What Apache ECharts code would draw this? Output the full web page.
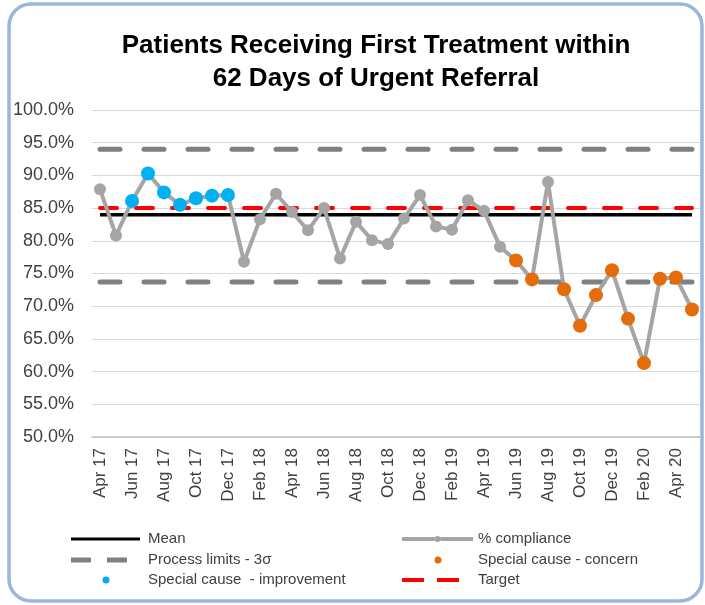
<!DOCTYPE html>
<html>
<head>
<meta charset="utf-8">
<script src="https://cdn.jsdelivr.net/npm/echarts@6/dist/echarts.min.js"></script>
<style>
  html, body { margin: 0; padding: 0; background: #fff; }
  #chart { width: 705px; height: 605px; }
</style>
</head>
<body>
<div id="chart"></div>
<script>
var months = ['Apr 17', 'May 17', 'Jun 17', 'Jul 17', 'Aug 17', 'Sep 17', 'Oct 17', 'Nov 17', 'Dec 17',
    'Jan 18', 'Feb 18', 'Mar 18', 'Apr 18', 'May 18', 'Jun 18', 'Jul 18', 'Aug 18', 'Sep 18', 'Oct 18', 'Nov 18', 'Dec 18',
    'Jan 19', 'Feb 19', 'Mar 19', 'Apr 19', 'May 19', 'Jun 19', 'Jul 19', 'Aug 19', 'Sep 19', 'Oct 19', 'Nov 19', 'Dec 19',
    'Jan 20', 'Feb 20', 'Mar 20', 'Apr 20', 'May 20'];
// % compliance per month
var compliance = [87.9, 80.8, 86.1, 90.3, 87.4, 85.5, 86.5, 86.9, 87.0,
    76.8, 83.3, 87.2, 84.4, 81.6, 85.0, 77.3, 82.9, 80.1, 79.5, 83.4, 87.0,
    82.2, 81.7, 86.2, 84.6, 79.1, 77.0, 74.1, 89.0, 72.6, 67.0, 71.7, 75.5,
    68.1, 61.3, 74.2, 74.4, 69.5];
// months flagged as special cause
var improvementIdx = [2, 3, 4, 5, 6, 7, 8];
var concernIdx = [26, 27, 29, 30, 31, 32, 33, 34, 35, 36, 37];
var meanValue = 84.0;
var upperLimit = 94.0;
var lowerLimit = 73.7;
var targetValue = 85.0;

var font = '"Liberation Sans", Arial, sans-serif';
var textColor = '#404040';

function flat(v) {
    return months.map(function () { return v; });
}
function pick(idx) {
    return compliance.map(function (v, i) { return idx.indexOf(i) >= 0 ? v : '-'; });
}

var chart = echarts.init(document.getElementById('chart'), null, { renderer: 'canvas' });

var legendText = { fontFamily: font, fontSize: 15, color: textColor };
function legendItem(name, left, top, icon, w, h) {
    return {
        left: left, top: top, padding: 0, orient: 'horizontal',
        itemWidth: w, itemHeight: h,
        selectedMode: false,
        textStyle: legendText,
        data: [{ name: name, icon: icon, itemStyle: { borderWidth: 0 } }]
    };
}
// legend icons (the trailing move keeps the icon box full width)
var dotLeft = 'path://M0,0M72,7M31.5,3.5a3.5,3.5 0 1,0 7,0a3.5,3.5 0 1,0 -7,0';
var dotRight = 'path://M0,0M71,7M32.5,3.5a3.5,3.5 0 1,0 7,0a3.5,3.5 0 1,0 -7,0';
var lineDot = 'path://M0,1h32.5v4h-32.5zM38.5,1h32.5v4h-32.5zM32.5,3a3,3 0 1,1 6,0a3,3 0 1,1 -6,0';

var option = {
    animation: false,
    backgroundColor: '#fff',
    title: {
        text: 'Patients Receiving First Treatment within\n62 Days of Urgent Referral',
        left: 376,
        top: 29,
        padding: 0,
        textAlign: 'center',
        textStyle: { fontFamily: font, fontSize: 26, fontWeight: 'bold', color: '#000', lineHeight: 33 }
    },
    graphic: [{
        type: 'rect',
        shape: { x: 9, y: 4, width: 693, height: 597, r: 22 },
        style: { fill: 'none', stroke: '#9ab6da', lineWidth: 3.5 },
        silent: true
    }],
    legend: [
        legendItem('Mean', 71, 531.5, 'path://M0,0h69v3h-69zM72,0', 72, 3),
        legendItem('Process limits - 3σ', 71, 552.5, 'path://M0,0h20v5h-20zM36,0h20v5h-20zM72,0', 72, 5),
        legendItem('Special cause  - improvement', 71, 572.5, dotLeft, 72, 7),
        legendItem('% compliance', 402, 531.5, lineDot, 71, 6),
        legendItem('Special cause - concern', 402, 552.5, dotRight, 71, 7),
        legendItem('Target', 402, 572.5, 'path://M0,0h22v4h-22zM35,0h22v4h-22zM71,0', 71, 4)
    ],
    grid: { left: 92, right: 5, top: 110, bottom: 168 },
    xAxis: {
        type: 'category',
        data: months,
        boundaryGap: true,
        axisLine: { lineStyle: { color: '#bfbfbf', width: 1.5 } },
        axisTick: { show: false },
        axisLabel: {
            interval: 1, rotate: 90, margin: 11,
            fontFamily: font, fontSize: 17, color: textColor
        },
        splitLine: { show: false }
    },
    yAxis: {
        type: 'value',
        min: 50, max: 100, interval: 5,
        axisLine: { show: false },
        axisTick: { show: false },
        axisLabel: {
            margin: 18, fontFamily: font, fontSize: 18, color: textColor,
            formatter: function (v) { return v.toFixed(1) + '%'; }
        },
        splitLine: { lineStyle: { color: '#d9d9d9', width: 1 } }
    },
    series: [{
        name: 'Process limits - 3σ', type: 'line', data: flat(upperLimit), symbol: 'none',
        itemStyle: { color: '#808080' },
        lineStyle: { color: '#808080', width: 5, type: [20, 24], cap: 'round' }
    }, {
        name: 'Process limits - 3σ', type: 'line', data: flat(lowerLimit), symbol: 'none',
        itemStyle: { color: '#808080' },
        lineStyle: { color: '#808080', width: 5, type: [20, 24], cap: 'round' }
    }, {
        name: 'Mean', type: 'line', data: flat(meanValue), symbol: 'none',
        itemStyle: { color: '#000' },
        lineStyle: { color: '#000', width: 3.5 }
    }, {
        name: 'Target', type: 'line', data: flat(targetValue), symbol: 'none',
        itemStyle: { color: '#ff0000' },
        lineStyle: { color: '#ff0000', width: 4, type: [17, 19], cap: 'round' }
    }, {
        name: '% compliance', type: 'line', data: compliance,
        symbol: 'circle', symbolSize: 12, showAllSymbol: true,
        itemStyle: { color: '#a5a5a5' },
        lineStyle: { color: '#a5a5a5', width: 4 }
    }, {
        name: 'Special cause  - improvement', type: 'line', data: pick(improvementIdx),
        symbol: 'circle', symbolSize: 14, showAllSymbol: true,
        itemStyle: { color: '#00b0f0' },
        lineStyle: { width: 0, opacity: 0 }
    }, {
        name: 'Special cause - concern', type: 'line', data: pick(concernIdx),
        symbol: 'circle', symbolSize: 14, showAllSymbol: true,
        itemStyle: { color: '#e46c0a' },
        lineStyle: { width: 0, opacity: 0 }
    }]
};

chart.setOption(option);
</script>
</body>
</html>
